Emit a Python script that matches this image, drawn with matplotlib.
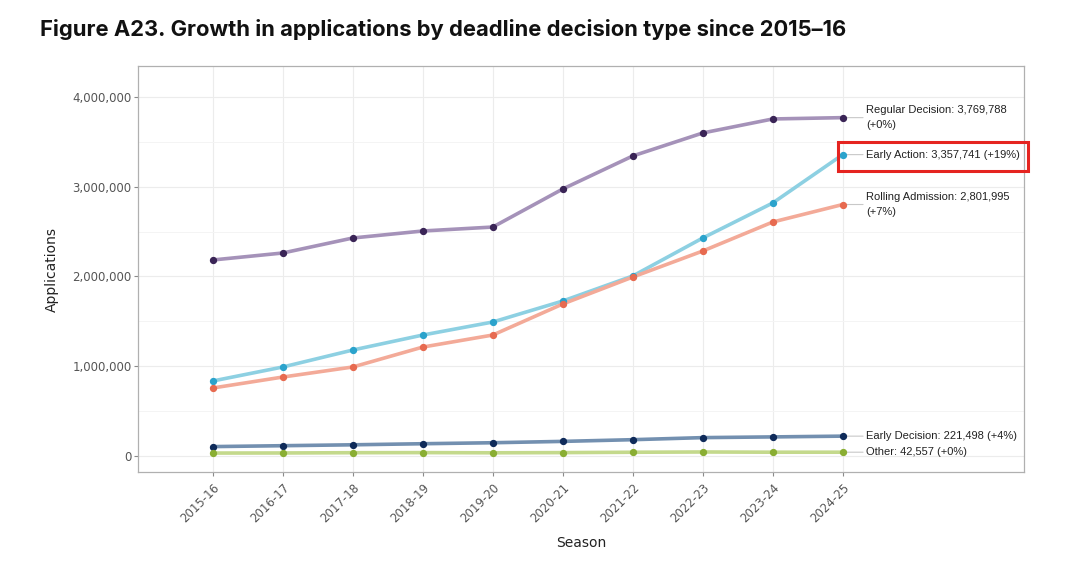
import matplotlib.pyplot as plt
from matplotlib.patches import Rectangle
from matplotlib.ticker import FuncFormatter, MultipleLocator

seasons = ["2015-16", "2016-17", "2017-18", "2018-19", "2019-20",
           "2020-21", "2021-22", "2022-23", "2023-24", "2024-25"]

regular = [2184000, 2262000, 2429000, 2507000, 2551000,
           2975000, 3343000, 3599000, 3755000, 3769788]
early_action = [836000, 992000, 1181000, 1348000, 1493000,
                1727000, 2006000, 2429000, 2819000, 3357741]
rolling = [758000, 880000, 992000, 1214000, 1348000,
           1694000, 1994000, 2284000, 2607000, 2801995]
early_decision = [105000, 115000, 125000, 137000, 148000,
                  163000, 182000, 205000, 213000, 221498]
other = [33000, 34000, 37000, 38000, 36000,
         38000, 42000, 45000, 42500, 42557]

series = [
    ("Regular Decision: 3,769,788\n(+0%)", regular, "#a592b9", "#3a2456"),
    ("Early Action: 3,357,741 (+19%)", early_action, "#8dd0e2", "#2ba3cc"),
    ("Rolling Admission: 2,801,995\n(+7%)", rolling, "#f3aa98", "#e76a50"),
    ("Early Decision: 221,498 (+4%)", early_decision, "#7390b0", "#0f2b5a"),
    ("Other: 42,557 (+0%)", other, "#c4d98c", "#8aae33"),
]

fig = plt.figure(figsize=(10.8, 5.66), dpi=100)
ax = fig.add_axes([138 / 1080, 1 - 472 / 566, (1024 - 138) / 1080, (472 - 66) / 566])

x = list(range(len(seasons)))
for label, vals, lc, mc in series:
    ax.plot(x, vals, color=lc, lw=2.6, zorder=3, solid_capstyle="round")
    ax.scatter(x, vals, color=mc, s=18, zorder=4)
    ax.annotate(label, xy=(x[-1], vals[-1]), xytext=(x[-1] + 0.33, vals[-1]),
                fontsize=8.0, color="#222222", va="center", ha="left",
                family="Liberation Sans", linespacing=1.7,
                arrowprops=dict(arrowstyle="-", color="#c8c8c8", lw=0.8,
                                shrinkA=0, shrinkB=1))

ax.set_xlim(-1.07, 11.59)
ax.set_ylim(-178000, 4345000)
ax.set_xticks(x)
ax.set_xticklabels(seasons, rotation=45, ha="right", rotation_mode="anchor")
ax.yaxis.set_major_locator(MultipleLocator(1000000))
ax.yaxis.set_minor_locator(MultipleLocator(500000))
ax.yaxis.set_major_formatter(FuncFormatter(lambda v, p: f"{int(v):,}"))
ax.tick_params(axis="both", colors="#8a8a8a", labelcolor="#555555",
               labelsize=8.5, length=3, width=0.8)
ax.tick_params(axis="y", pad=1.5)
ax.tick_params(axis="y", which="minor", length=0)
ax.grid(True, which="major", color="#ececec", lw=0.8, zorder=0)
ax.grid(True, which="minor", axis="y", color="#f4f4f4", lw=0.7, zorder=0)
for s in ax.spines.values():
    s.set_color("#b0b0b0")
    s.set_linewidth(0.9)

ax.set_ylabel("Applications", fontsize=10, color="#222222")
ax.yaxis.set_label_coords(-0.089, 0.5)
ax.set_xlabel("Season", fontsize=10, color="#222222")
ax.xaxis.set_label_coords(0.50, -0.158)

fig.text(40 / 1080, 1 - 30 / 566, "Figure A23. Growth in applications by deadline decision type since 2015\u201316",
         fontsize=15.8, fontweight="bold", family="Inter", va="center", ha="left", color="#111111")

fig.patches.append(Rectangle((838 / 1080, 1 - 171 / 566), 190 / 1080, 29 / 566,
                             transform=fig.transFigure, fill=False,
                             edgecolor="#e52420", lw=2.2, zorder=10))

fig.savefig("out.png", dpi=100)
